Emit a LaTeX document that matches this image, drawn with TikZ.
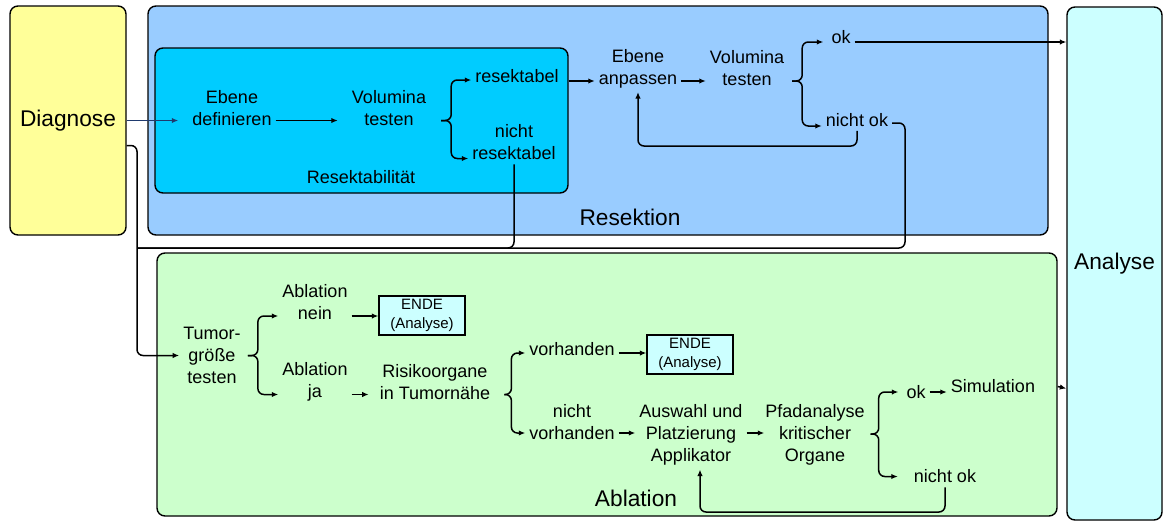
\documentclass[tikz,border=0pt]{standalone}
\usepackage{fontspec}
\setmainfont{Liberation Sans}
\usetikzlibrary{arrows.meta,calc}
\definecolor{diagfill}{HTML}{FFFF99}
\definecolor{resfill}{HTML}{99CCFF}
\definecolor{resabfill}{HTML}{00CCFF}
\definecolor{anafill}{HTML}{CCFFFF}
\definecolor{ablfill}{HTML}{CCFFCC}
\definecolor{navy}{HTML}{1F3A6E}
\begin{document}
\begin{tikzpicture}[x=1pt,y=-1pt,
  box/.style={draw=black, line width=1.4pt, rounded corners=8pt, inner sep=0pt},
  txt/.style={align=center, inner sep=4pt, font=\fontsize{18}{22}\selectfont},
  big/.style={inner sep=0pt, font=\fontsize{22.7}{27}\selectfont},
  endbox/.style={draw=black, line width=1.4pt, fill=anafill, minimum width=86pt,
    minimum height=39pt, inner sep=0pt, align=center, font=\fontsize{15}{19}\selectfont},
  link/.style={line width=1.5pt, rounded corners=6pt},
  arr/.style={link, -{Latex[length=6.5pt,width=5.5pt]}},
]
\useasboundingbox (0,0) rectangle (1163,522);

% main areas
\node[box, fill=diagfill, minimum width=116pt, minimum height=229pt,
  font=\fontsize{22.7}{27}\selectfont] (diag) at (68,120.5) {Diagnose};
\node[box, fill=resfill, minimum width=900pt, minimum height=229pt] (res) at (598,120.5) {};
\node[box, fill=resabfill, minimum width=413pt, minimum height=145pt] (resab) at (361.5,120.5) {};
\node[box, fill=anafill, minimum width=95pt, minimum height=513pt,
  font=\fontsize{22.7}{27}\selectfont] (ana) at (1114.5,263.5) {Analyse};
\node[box, fill=ablfill, minimum width=900pt, minimum height=263pt] (abl) at (607,384.5) {};

\node[big] (reslbl) at (630,217.5) {Resektion};
\node[txt, inner sep=0pt] (resablbl) at (361,177.5) {Resektabilität};
\node[big] (abllbl) at (636,498) {Ablation};

% Resektion steps
\node[txt] (ebdef) at (232,108) {Ebene\\definieren};
\node[txt] (vol1) at (389,108) {Volumina\\testen};
\node[txt] (resok) at (517,76) {resektabel};
\node[txt] (resno) at (514,142.5) {nicht\\resektabel};
\node[txt] (ebanp) at (638,68.5) {Ebene\\anpassen};
\node[txt] (vol2) at (747,68.5) {Volumina\\testen};
\node[txt] (ok1) at (841,37.5) {ok};
\node[txt] (nok1) at (857,120) {nicht ok};

% Ablation steps
\node[txt] (tumor) at (212,355.5) {Tumor-\\größe\\testen};
\node[txt] (ablno) at (315,302.5) {Ablation\\nein};
\node[endbox] (ende1) at (422,315.5) {ENDE\\(Analyse)};
\node[txt] (ablja) at (315,382) {Ablation\\ja};
\node[txt] (risk) at (435,382) {Risikoorgane\\in Tumornähe};
\node[txt] (vorh) at (572,349.5) {vorhanden};
\node[endbox] (ende2) at (690,354.5) {ENDE\\(Analyse)};
\node[txt] (nvorh) at (572,422.5) {nicht\\vorhanden};
\node[txt] (ausw) at (691,435) {Auswahl und\\Platzierung\\Applikator};
\node[txt] (pfad) at (815,435) {Pfadanalyse\\kritischer\\Organe};
\node[txt] (ok2) at (916,392) {ok};
\node[txt] (sim) at (993,386.5) {Simulation};
\node[txt] (nok2) at (945,476.5) {nicht ok};

% helper points for the routed lines
\coordinate (cL) at (137,248);
\coordinate (cR) at (905,248);
\coordinate (rloop) at (0,146);
\coordinate (aloop) at (0,512);
\coordinate (e1) at ([yshift=-12.5pt]ebdef.west);
\coordinate (ea) at ([yshift=-12.5pt]ebanp.west);
\coordinate (aup) at ([xshift=9pt]ausw.south);
\coordinate (b1) at ([xshift=11pt,yshift=-12.5pt]vol1.east);
\coordinate (b2) at ([xshift=4pt,yshift=-12.5pt]vol2.east);
\coordinate (b3) at ([xshift=3pt]tumor.east);
\coordinate (b4) at ([xshift=10pt,yshift=-12.5pt]risk.east);
\coordinate (b5) at ([xshift=2pt,yshift=1pt]pfad.east);

% return paths into the Ablation branch
\draw[link] ([yshift=-3pt]nok1.east) -| (cR) -- (cL);
\draw[link] (resno.south) |- (cL);
\draw[arr] ([yshift=-25pt]diag.east) -| (cL) |- (tumor.west);

% Resektion flow
\draw[arr, navy] (diag.east |- e1) -- ([xshift=-10pt]e1);
\draw[arr] ([yshift=-12.5pt]ebdef.east) -- ([yshift=-12.5pt,xshift=-10pt]vol1.west);
\draw[arr] (b1) -- ++(10,0) |- ([yshift=-4pt]resok.west);
\draw[arr] (b1) -- ++(10,0) |- ([yshift=-16pt]resno.west);
\draw[arr] (resab.east |- ea) -- (ea);
\draw[arr] ([yshift=-12.5pt]ebanp.east) -- ([yshift=-12.5pt]vol2.west);
\draw[arr] (b2) -- ++(10,0) |- ([yshift=-4.5pt,xshift=-4pt]ok1.west);
\draw[arr] (b2) -- ++(10,0) |- ([yshift=-6pt]nok1.west);
\draw[arr] ([yshift=-4.5pt]ok1.east) -- ([yshift=-4.5pt]ok1.east -| ana.west);
\draw[arr] (nok1.south) -- (nok1.south |- rloop) -- (ebanp.south |- rloop) -- (ebanp.south);

% Ablation flow
\draw[arr] (b3) -- ++(10,0) |- ([yshift=-13.5pt]ablno.west);
\draw[arr] (b3) -- ++(10,0) |- ([yshift=-12.5pt]ablja.west);
\draw[arr] ([yshift=-13.5pt]ablno.east) -- ([yshift=-13.5pt]ablno.east -| ende1.west);
\draw[arr, shorten >=7pt] ([yshift=-12.5pt]ablja.east) -- ([yshift=-12.5pt]risk.west);
\draw[arr] (b4) -- ++(7,0) |- ([yshift=-3.5pt]vorh.west);
\draw[arr] (b4) -- ++(7,0) |- ([yshift=-10.5pt]nvorh.west);
\draw[arr] ([yshift=-3.5pt]vorh.east) -- ([yshift=-3.5pt]vorh.east -| ende2.west);
\draw[arr] ([yshift=-10.5pt]nvorh.east) -- ([yshift=-10.5pt]nvorh.east -| ausw.west);
\draw[arr] ([yshift=2pt]ausw.east) -- ([yshift=2pt,xshift=3pt]pfad.west);
\draw[arr] (b5) -- ++(8,0) |- ([xshift=-4pt]ok2.west);
\draw[arr, shorten >=12pt] (b5) -- ++(8,0) |- (nok2.west);
\draw[arr] (ok2.east) -- (ok2.east -| sim.west);
\draw[arr] (nok2.south) -- (nok2.south |- aloop) -- (aup |- aloop) -- (aup);
\draw[arr] (sim -| abl.east) -- ([yshift=-2pt]sim -| ana.west);
\end{tikzpicture}
\end{document}
